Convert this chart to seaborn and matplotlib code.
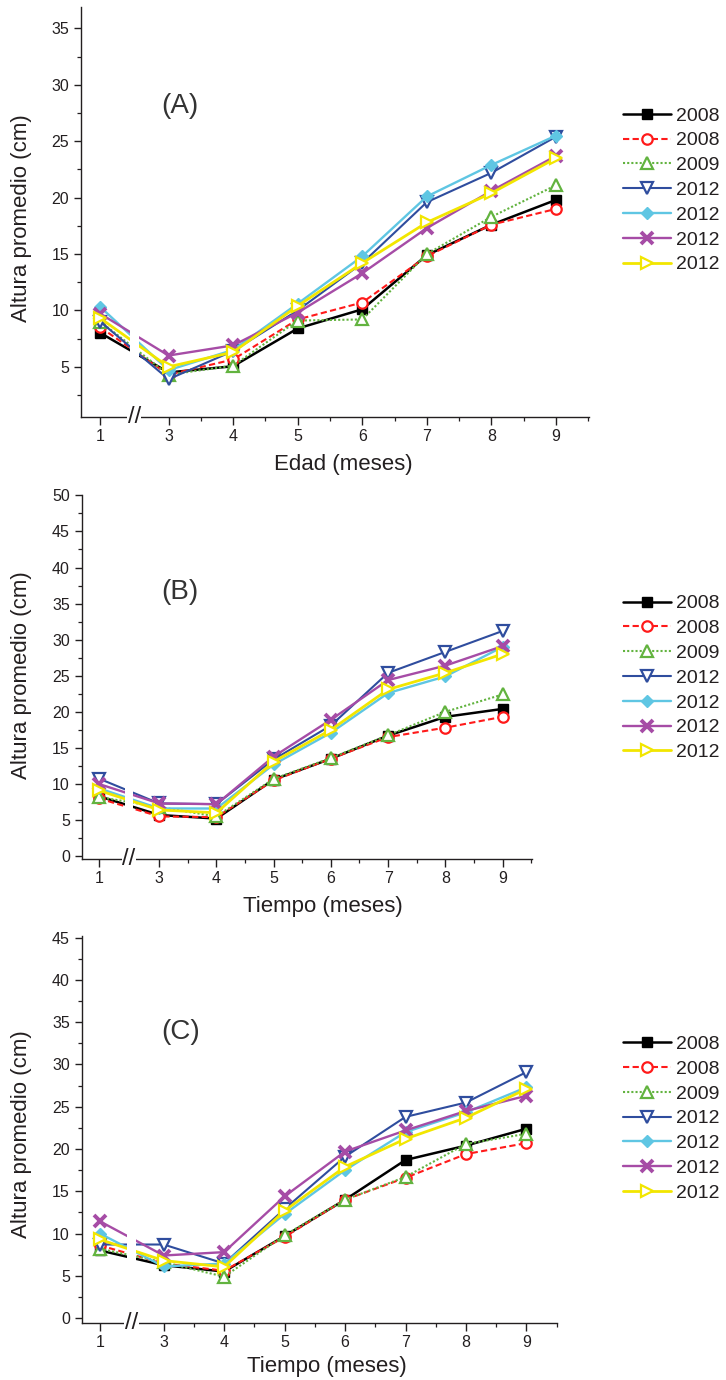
import matplotlib
matplotlib.use("Agg")
import matplotlib.pyplot as plt
import matplotlib.transforms as mtransforms
import pandas as pd
import seaborn as sns

# ---- data -------------------------------------------------------------
months = [1, 3, 4, 5, 6, 7, 8, 9]
series_labels = ["2008", "2008", "2009", "2012", "2012", "2012", "2012"]

# (A) Edad (meses)
a_black   = [8.0, 4.5, 5.05, 8.4, 10.1, 14.9, 17.6, 19.8]
a_red     = [8.5, 4.3, 5.65, 9.2, 10.7, 14.8, 17.6, 19.0]
a_green   = [9.0, 4.3, 5.1, 9.1, 9.2, 15.0, 18.3, 21.1]
a_blue    = [9.0, 3.9, 6.4, 10.0, 14.2, 19.6, 22.2, 25.4]
a_cyan    = [10.3, 4.7, 6.5, 10.6, 14.8, 20.1, 22.9, 25.5]
a_magenta = [9.7, 6.0, 6.9, 9.8, 13.3, 17.3, 20.6, 23.7]
a_yellow  = [9.3, 5.0, 6.3, 10.4, 14.2, 17.8, 20.4, 23.5]

# (B) Tiempo (meses)
b_black   = [8.3, 5.7, 5.2, 10.6, 13.5, 16.7, 19.3, 20.4]
b_red     = [8.0, 5.5, 5.4, 10.5, 13.5, 16.5, 17.8, 19.3]
b_green   = [8.2, 6.8, 5.5, 10.7, 13.6, 16.75, 20.0, 22.4]
b_blue    = [10.75, 7.3, 7.2, 13.4, 18.1, 25.4, 28.3, 31.2]
b_cyan    = [9.4, 6.6, 6.6, 12.7, 17.1, 22.6, 24.9, 29.0]
b_magenta = [10.0, 7.3, 7.2, 13.8, 18.9, 24.4, 26.4, 29.1]
b_yellow  = [9.1, 6.4, 6.0, 13.1, 17.5, 23.1, 25.4, 28.0]

# (C) Tiempo (meses)
c_black   = [8.0, 6.25, 5.5, 9.7, 14.0, 18.7, 20.4, 22.4]
c_red     = [8.6, 6.45, 5.6, 9.6, 14.0, 16.6, 19.4, 20.7]
c_green   = [8.2, 6.6, 4.9, 9.8, 14.0, 16.7, 20.6, 21.8]
c_blue    = [8.7, 8.7, 6.45, 12.9, 19.1, 23.8, 25.5, 29.1]
c_cyan    = [10.0, 6.1, 6.45, 12.3, 17.5, 22.0, 24.35, 27.3]
c_magenta = [11.45, 7.4, 7.8, 14.4, 19.7, 22.2, 24.5, 26.3]
c_yellow  = [9.3, 6.8, 6.05, 12.7, 17.9, 21.2, 23.7, 27.1]

panels = [
    ("(A)", "Edad (meses)",
     [a_black, a_red, a_green, a_blue, a_cyan, a_magenta, a_yellow]),
    ("(B)", "Tiempo (meses)",
     [b_black, b_red, b_green, b_blue, b_cyan, b_magenta, b_yellow]),
    ("(C)", "Tiempo (meses)",
     [c_black, c_red, c_green, c_blue, c_cyan, c_magenta, c_yellow]),
]

# ---- styling ----------------------------------------------------------
sns.set_style("ticks")
plt.rcParams["font.family"] = ["Liberation Sans", "DejaVu Sans"]
TXT = "#231f20"

styles = [
    dict(color="#000000", marker="s", ls="-", lw=1.8, mfc="#000000", mew=1.0, ms=6.5),
    dict(color="#ff1a1a", marker="o", ls=(0, (3, 1.6)), lw=1.5, mfc="white", mew=1.6, ms=7.5),
    dict(color="#62b33f", marker="^", ls=(0, (1, 1)), lw=1.5, mfc="white", mew=1.6, ms=8),
    dict(color="#2f4d9e", marker="v", ls="-", lw=1.5, mfc="white", mew=1.6, ms=8),
    dict(color="#5fc6e3", marker="D", ls="-", lw=1.7, mfc="#5fc6e3", mew=1.0, ms=6.5),
    dict(color="#a64ca6", marker="x", ls="-", lw=1.7, mfc="#a64ca6", mew=2.8, ms=9),
    dict(color="#f2e600", marker=">", ls="-", lw=2.0, mfc="white", mew=1.6, ms=8),
]

# broken axis: month 1 sits just over one step left of month 3
BREAK_STEP = 1.055
x_pos = [m if m >= 3 else 3 - BREAK_STEP for m in months]
gap_lo, gap_hi, break_x = 2.40, 2.55, 2.47

W, H = 726, 1380
fig = plt.figure(figsize=(W / 100, H / 100), dpi=100)

# axes boxes in pixels: left, right, top, bottom
boxes = [(81, 589, 7, 417), (81.7, 531.7, 495, 859), (81.7, 557.3, 936, 1322.7)]
ylims = [(0.55, 36.9), (-0.4, 50.05), (-0.55, 45.2)]
yticks = [range(5, 40, 5), range(0, 55, 5), range(0, 50, 5)]
tag_pos = [(0.195, 0.759), (0.218, 0.734), (0.208, 0.752)]
ylabel_pos = [(-0.0965, 0.485), (-0.110, 0.505), (-0.1045, 0.488)]
xlabel_pos = [(0.516, -0.129), (0.537, -0.145), (0.516, -0.127)]
legend_top = [107, 594.7, 1035.3]

for i, (tag, xlabel, series) in enumerate(panels):
    l, r, t, b = boxes[i]
    ax = fig.add_axes([l / W, 1 - b / H, (r - l) / W, (b - t) / H])

    for lab, vals, st in zip(series_labels, series, styles):
        df = pd.DataFrame({"x": x_pos, "y": vals})
        sns.lineplot(data=df, x="x", y="y", ax=ax, legend=False, label=lab,
                     color=st["color"], linestyle=st["ls"], linewidth=st["lw"],
                     marker=st["marker"], markersize=st["ms"],
                     markerfacecolor=st["mfc"], markeredgecolor=st["color"],
                     markeredgewidth=st["mew"], sort=False)

    # white band interrupting the lines at the axis break
    ax.axvspan(gap_lo, gap_hi, color="white", zorder=2.3, lw=0)

    ax.set_xlim(1.645, 9.51)
    ax.set_xticks(x_pos)
    ax.set_xticklabels([str(m) for m in months])
    ax.set_xticks([m + 0.5 for m in months[1:]], minor=True)
    ax.set_yticks(list(yticks[i]))
    ax.set_yticks([v + 2.5 for v in yticks[i]] + [yticks[i][0] - 2.5], minor=True)
    ax.set_ylim(*ylims[i])

    for side in ("top", "right"):
        ax.spines[side].set_visible(False)
    for side in ("left", "bottom"):
        ax.spines[side].set_linewidth(1.0)
        ax.spines[side].set_color(TXT)
    ax.tick_params(which="major", direction="out", length=5.4, width=1.0,
                   color=TXT, labelsize=11.5, labelcolor=TXT, pad=3.5)
    ax.tick_params(which="minor", direction="out", length=2.6, width=0.9, color=TXT)
    ax.tick_params(axis="y", which="major", pad=3.2)

    ax.set_xlabel(xlabel, fontsize=16, color=TXT)
    ax.set_ylabel("Altura promedio (cm)", fontsize=16, color=TXT)
    ax.xaxis.label.set_va("baseline")
    ax.xaxis.set_label_coords(*xlabel_pos[i])
    ax.yaxis.set_label_coords(*ylabel_pos[i])

    ax.text(*tag_pos[i], tag, transform=ax.transAxes, fontsize=20,
            color="#333333", ha="center", va="center")

    # "//" break mark on the x axis
    trans = mtransforms.blended_transform_factory(ax.transData, ax.transAxes)
    ax.text(break_x, 0, "//", transform=trans, ha="center", va="center",
            fontsize=17, color=TXT, clip_on=False, zorder=4,
            bbox=dict(facecolor="white", edgecolor="none", pad=0.3))

    handles, labels = ax.get_legend_handles_labels()
    ax.legend(handles, labels, loc="upper left",
              bbox_to_anchor=(623 / W, 1 - legend_top[i] / H),
              bbox_transform=fig.transFigure, frameon=False, fontsize=14,
              borderpad=0, borderaxespad=0, handlelength=2.45,
              handletextpad=0.3, labelspacing=0.37, labelcolor=TXT)

fig.savefig("out.png", dpi=100)
